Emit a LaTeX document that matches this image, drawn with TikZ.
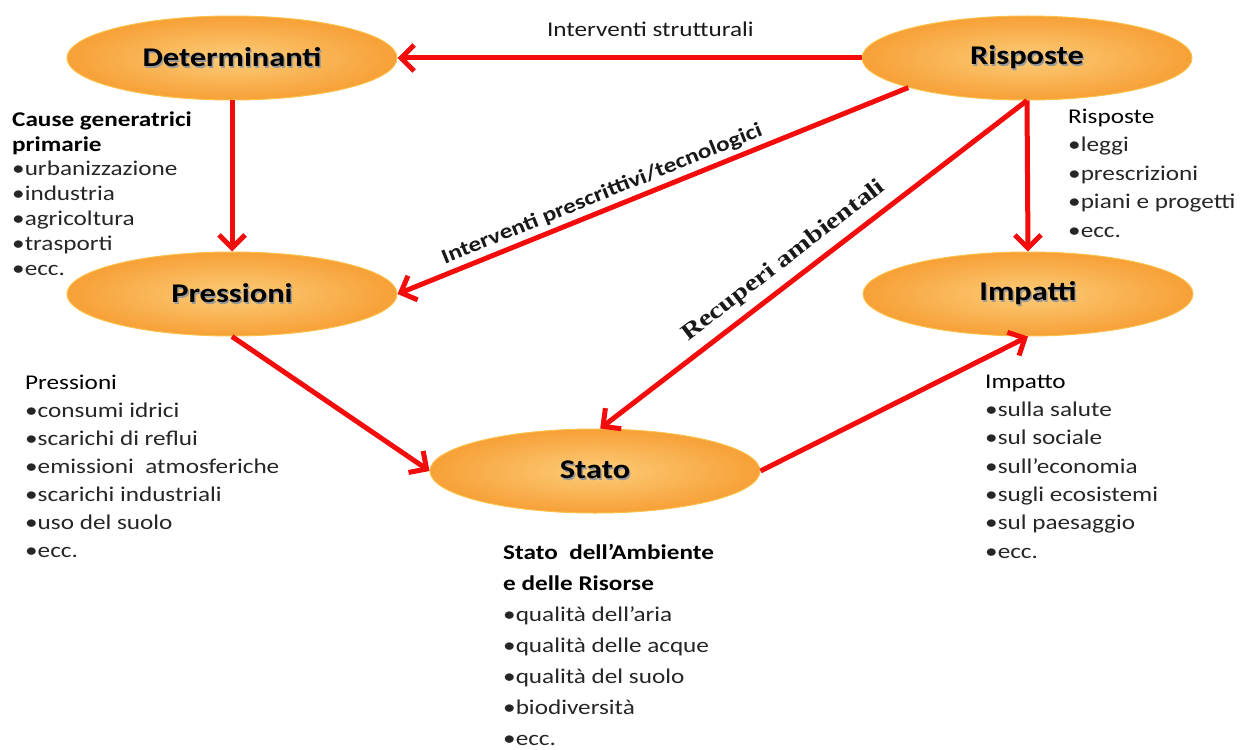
\documentclass[tikz,border=0pt]{standalone}
\usepackage{fontspec}
\setmainfont{Carlito}[FakeStretch=1.2]
\newfontfamily\recfont{Liberation Serif}[FakeStretch=1.25]
\usetikzlibrary{shapes.geometric,arrows.meta}
\definecolor{arrred}{RGB}{242,12,12}
\definecolor{ellin}{RGB}{252,204,120}
\definecolor{ellout}{RGB}{247,160,55}
\definecolor{ellborder}{RGB}{250,192,72}
\newcommand\shd[1]{\makebox[0pt][l]{\hspace{1.4pt}\raisebox{-1.7pt}{\textcolor{black!40}{#1}}}#1}
\newcommand\hd[1]{\textcolor{black}{#1}}
\begin{document}
\begin{tikzpicture}[x=1pt,y=1pt,
  ell/.style={ellipse, minimum width=330pt, minimum height=84pt, inner sep=0pt,
    draw=ellborder, line width=1pt, inner color=ellin, outer color=ellout,
    font=\fontsize{27}{30}\selectfont\bfseries},
  arr/.style={draw=arrred, line width=5pt, -{Straight Barb[length=13pt,width=26pt]}},
  lbl/.style={font=\fontsize{21}{24}\selectfont, inner sep=0pt, text=black!90},
  blk/.style={anchor=base west, align=left, inner sep=0pt, text=black!85,
    font=\fontsize{21}{#1}\selectfont}
]
\fill[white] (0,0) rectangle (1249,-749);
\useasboundingbox (0,0) rectangle (1249,-749);

% ellipses
\node[ell] (det)  at (232,-58)  {\shd{Determinanti}};
\node[ell] (risp) at (1027,-58) {\shd{Risposte}};
\node[ell] (pres) at (232,-294) {\shd{Pressioni}};
\node[ell] (imp)  at (1028,-294) {\shd{Impatti}};
\node[ell] (stato) at (595,-471) {\shd{Stato}};

% connectors
\draw[arr] (risp.west) -- node[lbl, pos=0.455, above=19pt] (l1) {Interventi strutturali} (det.east);
\draw[arr] (det.south) -- (pres.north);
\draw[arr] (risp.194) -- node[lbl, font=\fontsize{21}{24}\selectfont\bfseries, pos=0.588, sloped, above=4pt] (l2) {Interventi prescrittivi/tecnologici} (pres.east);
\draw[arr] (risp.south) -- node[lbl, font=\fontsize{23}{26}\recfont\bfseries, pos=0.54, sloped, above=8pt] (l3) {Recuperi ambientali} (stato.83);
\draw[arr] (risp.south) -- (imp.north);
\draw[arr] (pres.south) -- (stato.west);
\draw[arr] (stato.east) -- (imp.south);

% text blocks (anchored at the baseline of their last line)
\node[blk=24.8] (cause) at (12,-275) {\hd{\textbf{Cause generatrici}}\\\hd{\textbf{primarie}}\\\textbullet urbanizzazione\\\textbullet industria\\\textbullet agricoltura\\\textbullet trasporti\\\textbullet ecc.};
\node[blk=28.5] (rispblk) at (1068,-237) {\hd{Risposte}\\\textbullet leggi\\\textbullet prescrizioni\\\textbullet piani e progetti\\\textbullet ecc.};
\node[blk=28] (presblk) at (25,-557) {\hd{Pressioni}\\\textbullet consumi idrici\\\textbullet scarichi di reflui\\\textbullet emissioni\ \ atmosferiche\\\textbullet scarichi industriali\\\textbullet uso del suolo\\\textbullet ecc.};
\node[blk=28.3] (impblk) at (985,-558) {\hd{Impatto}\\\textbullet sulla salute\\\textbullet sul sociale\\\textbullet sull’economia\\\textbullet sugli ecosistemi\\\textbullet sul paesaggio\\\textbullet ecc.};
\node[blk=31] (statoblk) at (503,-745) {\hd{\textbf{Stato\ \ dell’Ambiente}}\\\hd{\textbf{e delle Risorse}}\\\textbullet qualità dell’aria\\\textbullet qualità delle acque\\\textbullet qualità del suolo\\\textbullet biodiversità\\\textbullet ecc.};
\end{tikzpicture}
\end{document}
